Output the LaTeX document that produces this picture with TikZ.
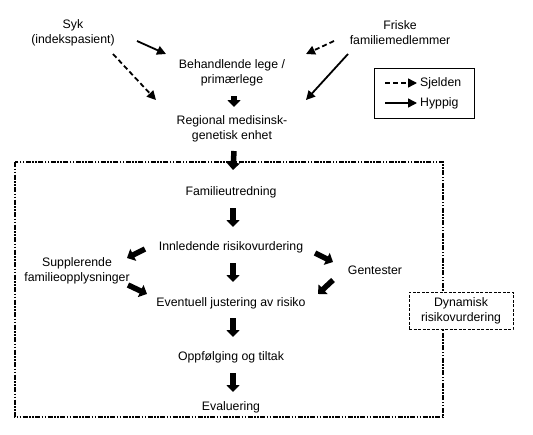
\documentclass[tikz,border=0pt]{standalone}
\usepackage{fontspec}
\setmainfont{Liberation Sans}
\usetikzlibrary{arrows.meta,calc}

\tikzset{
  txt/.style={align=center, inner sep=0pt, font=\fontsize{12.3}{15}\selectfont},
  oftenArrow/.style={line width=1.8pt, -{Triangle[length=9pt,width=9pt]}},
  rareArrow/.style={oftenArrow, dash pattern=on 5pt off 3pt},
  flowArrow/.style={line width=5.5pt, -{Triangle[length=7pt,width=13pt]}},
  bigFrame/.style={line width=1.1pt, dash pattern=on 5pt off 1.5pt on 1.5pt off 1.5pt on 1.5pt off 1.5pt},
  dynBox/.style={txt, draw, fill=white, line width=1pt, dash pattern=on 3pt off 1.5pt,
    minimum width=104pt, minimum height=37pt}
}

\begin{document}
\begin{tikzpicture}[x=1pt, y=-1pt]
  \useasboundingbox (0,0) rectangle (533,434);

  % referral
  \node[txt] (syk) at (73,33) {Syk\\(indekspasient)};
  \node[txt] (friske) at (400,33) {Friske\\familiemedlemmer};
  \node[txt] (beh) at (232,73) {Behandlende lege /\\primærlege};
  \node[txt] (reg) at (232,129) {Regional medisinsk-\\genetisk enhet};

  \draw[oftenArrow] ($(syk)+(64,8)$) -- ($(beh)+(-66,-19)$);
  \draw[rareArrow] ($(syk)+(40,21)$) -- ($(reg)+(-76,-29)$);
  \draw[rareArrow] ($(friske)+(-66,8)$) -- ($(beh)+(74,-19)$);
  \draw[oftenArrow] ($(friske)+(-52,21)$) -- ($(reg)+(74,-29)$);

  % legend
  \node[draw, line width=0.8pt, minimum width=100pt, minimum height=50pt] (legend) at (424,93) {};
  \node[txt, anchor=west, text height=9pt, text depth=3pt] (sjelden) at (420,83) {Sjelden};
  \node[txt, anchor=west, text height=9pt, text depth=3pt] (hyppig) at (420,103) {Hyppig};
  \draw[rareArrow, line width=1.4pt] ($(sjelden.west)+(-35,0)$) -- ($(sjelden.west)+(-3,0)$);
  \draw[oftenArrow, line width=1.4pt] ($(hyppig.west)+(-35,0)$) -- ($(hyppig.west)+(-3,0)$);

  % dynamic risk assessment
  \draw[bigFrame] (15,162) rectangle (443,417);
  \node[dynBox] (dyn) at (461,310.5) {Dynamisk\\risikovurdering};

  \node[txt] (fam) at (231,192) {Familieutredning};
  \node[txt] (inn) at (231,247) {Innledende risikovurdering};
  \node[txt] (supp) at (77,271) {Supplerende\\familieopplysninger};
  \node[txt] (gen) at (375,270) {Gentester};
  \node[txt] (evt) at (231,303) {Eventuell justering av risiko};
  \node[txt] (opp) at (231,357) {Oppfølging og tiltak};
  \node[txt] (eva) at (231,407) {Evaluering};

  \draw[flowArrow] ($(beh)+(2,23)$) -- ($(reg)+(2,-22)$);
  \draw[flowArrow] ($(reg)+(2,22)$) -- ($(fam)+(2,-22)$);
  \draw[flowArrow] ($(fam)+(2,16)$) -- ($(inn)+(2,-20)$);
  \draw[flowArrow] ($(inn)+(2,16)$) -- ($(evt)+(2,-21)$);
  \draw[flowArrow] ($(evt)+(2,15)$) -- ($(opp)+(2,-20)$);
  \draw[flowArrow] ($(opp)+(2,16)$) -- ($(eva)+(2,-15)$);

  \draw[flowArrow] ($(inn)+(-86,2)$) -- ($(supp)+(50,-13)$);
  \draw[flowArrow] ($(supp)+(51,14)$) -- ($(evt)+(-84,-9)$);
  \draw[flowArrow] ($(inn)+(84,6)$) -- ($(gen)+(-42,-8)$);
  \draw[flowArrow] ($(gen)+(-42,10)$) -- ($(evt)+(87,-9)$);
\end{tikzpicture}
\end{document}
